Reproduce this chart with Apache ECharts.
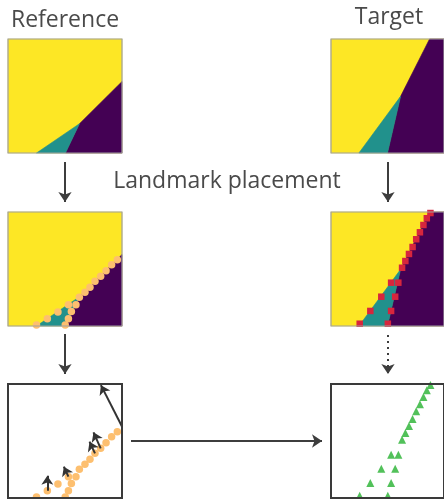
<!DOCTYPE html>
<html>
<head>
<meta charset="utf-8">
<script src="https://cdn.jsdelivr.net/npm/echarts@6/dist/echarts.min.js"></script>
<style>
html, body { margin: 0; padding: 0; background: #fff; }
#chart { width: 444px; height: 499px; }
</style>
</head>
<body>
<div id="chart"></div>
<script>
// Class regions in unit-square coordinates (x to the right, y upwards)
const refPurple = [[1, 0.627], [0.627, 0.257], [0.504, 0], [1, 0]];
const refTeal = [[0.627, 0.257], [0.25, 0], [0.504, 0]];
const tgtPurple = [[0.872, 1], [1, 1], [1, 0], [0.5, 0], [0.616, 0.497]];
const tgtTeal = [[0.616, 0.497], [0.5, 0], [0.247, 0]];

// Landmarks placed along the class boundaries
const refLandmarks = [
  [0.959, 0.582], [0.909, 0.538], [0.860, 0.485], [0.813, 0.436],
  [0.763, 0.392], [0.719, 0.339], [0.675, 0.295], [0.626, 0.252],
  [0.530, 0.187], [0.596, 0.187],
  [0.556, 0.128], [0.530, 0.064], [0.502, 0.008],
  [0.438, 0.123], [0.345, 0.064], [0.250, 0.008]
];
const tgtLandmarks = [
  [0.880, 0.991], [0.848, 0.945], [0.818, 0.886], [0.787, 0.822],
  [0.754, 0.761], [0.722, 0.693], [0.690, 0.632], [0.658, 0.570],
  [0.629, 0.511],
  [0.596, 0.380], [0.532, 0.380],
  [0.568, 0.257], [0.445, 0.257],
  [0.532, 0.132], [0.348, 0.132],
  [0.503, 0.020], [0.254, 0.020]
];

// Displacement arrows drawn on the reference landmarks: [from, to]
const refShifts = [
  [[0.345, 0.064], [0.345, 0.195]],
  [[0.530, 0.187], [0.490, 0.275]],
  [[0.763, 0.392], [0.715, 0.494]],
  [[0.813, 0.436], [0.750, 0.576]],
  [[1.000, 0.627], [0.815, 0.990]]
];

// Connector arrows between panels, in page space (x right, y down)
const solidArrows = [
  [[65, 162], [65, 202]],
  [[65, 334], [65, 374]],
  [[388, 162], [388, 202]],
  [[131, 441], [322, 441]]
];
const dottedArrows = [
  [[388, 335], [388, 374]]
];

const titles = [
  { text: 'Reference', x: 65, y: 20 },
  { text: 'Target', x: 389, y: 17 },
  { text: 'Landmark placement', x: 227, y: 181 }
];

const YELLOW = '#fde725', TEAL = '#21918c', PURPLE = '#440154';
const SIZE = 114;
const panels = [
  { left: 8, top: 39 }, { left: 331, top: 39 },
  { left: 8, top: 212 }, { left: 331, top: 212 },
  { left: 8, top: 384 }, { left: 331, top: 384 }
];

const grid = panels.map(p => ({ left: p.left, top: p.top, width: SIZE, height: SIZE, show: false }));
grid.push({ left: 0, top: 0, width: 444, height: 499, show: false });
const xAxis = panels.map((p, i) => ({ gridIndex: i, type: 'value', min: 0, max: 1, show: false }));
const yAxis = panels.map((p, i) => ({ gridIndex: i, type: 'value', min: 0, max: 1, show: false }));
xAxis.push({ gridIndex: 6, type: 'value', min: 0, max: 444, show: false });
yAxis.push({ gridIndex: 6, type: 'value', min: 0, max: 499, inverse: true, show: false });

function regionSeries(idx, purple, teal) {
  return {
    type: 'custom', xAxisIndex: idx, yAxisIndex: idx, z: 1, silent: true,
    data: [[0, 0]],
    renderItem: function (params, api) {
      const poly = (pts, c) => ({
        type: 'polygon',
        shape: { points: pts.map(pt => api.coord(pt)) },
        style: { fill: c, stroke: c, lineWidth: 0.6 }
      });
      return {
        type: 'group',
        children: [
          poly([[0, 0], [1, 0], [1, 1], [0, 1]], YELLOW),
          poly(purple, PURPLE),
          poly(teal, TEAL)
        ]
      };
    }
  };
}

function frameSeries(idx, color, width) {
  return {
    type: 'custom', xAxisIndex: idx, yAxisIndex: idx, z: 10, silent: true,
    data: [[0, 0]],
    renderItem: function (params, api) {
      const a = api.coord([0, 1]);
      const b = api.coord([1, 0]);
      return {
        type: 'rect',
        shape: { x: a[0], y: a[1], width: b[0] - a[0], height: b[1] - a[1] },
        style: { fill: 'none', stroke: color, lineWidth: width }
      };
    }
  };
}

function landmarkSeries(idx, data, symbol, size, color) {
  return {
    type: 'scatter', xAxisIndex: idx, yAxisIndex: idx, z: 5, silent: true,
    symbol: symbol, symbolSize: size, data: data,
    itemStyle: { color: color, opacity: 1 }
  };
}

const series = [
  regionSeries(0, refPurple, refTeal),
  regionSeries(1, tgtPurple, tgtTeal),
  regionSeries(2, refPurple, refTeal),
  regionSeries(3, tgtPurple, tgtTeal),
  landmarkSeries(2, refLandmarks, 'circle', 7.5, '#fdbf6f'),
  landmarkSeries(3, tgtLandmarks, 'rect', 6.5, '#d7263d'),
  landmarkSeries(4, refLandmarks, 'circle', 7.5, '#fdbf6f'),
  landmarkSeries(5, tgtLandmarks, 'triangle', 8, '#52c15a'),
  {
    type: 'lines', coordinateSystem: 'cartesian2d', xAxisIndex: 4, yAxisIndex: 4, z: 6, silent: true,
    symbol: ['none', 'arrow'], symbolSize: [0, 9],
    lineStyle: { color: '#333', width: 2, opacity: 1 },
    data: refShifts.map(s => ({ coords: s }))
  },
  {
    type: 'lines', coordinateSystem: 'cartesian2d', xAxisIndex: 6, yAxisIndex: 6, z: 6, silent: true,
    symbol: ['none', 'arrow'], symbolSize: [0, 10],
    lineStyle: { color: '#3d3d3d', width: 2, opacity: 1 },
    data: solidArrows.map(s => ({ coords: s }))
  },
  {
    type: 'lines', coordinateSystem: 'cartesian2d', xAxisIndex: 6, yAxisIndex: 6, z: 6, silent: true,
    symbol: ['none', 'arrow'], symbolSize: [0, 10],
    lineStyle: { color: '#3d3d3d', width: 2, type: [2, 4], opacity: 1 },
    data: dottedArrows.map(s => ({ coords: s }))
  },
  frameSeries(0, '#a0a0a0', 1.2),
  frameSeries(1, '#a0a0a0', 1.2),
  frameSeries(2, '#a0a0a0', 1.2),
  frameSeries(3, '#a0a0a0', 1.2),
  frameSeries(4, '#3a3a3a', 2),
  frameSeries(5, '#3a3a3a', 2)
];

const chart = echarts.init(document.getElementById('chart'), null, { renderer: 'canvas' });
chart.setOption({
  animation: false,
  backgroundColor: '#fff',
  grid: grid,
  xAxis: xAxis,
  yAxis: yAxis,
  series: series,
  graphic: titles.map(t => ({
    type: 'text', x: t.x, y: t.y, z: 20,
    style: {
      text: t.text, fill: '#4a4a4a', font: '23px "Open Sans", sans-serif',
      textAlign: 'center', textVerticalAlign: 'middle'
    }
  }))
});
</script>
</body>
</html>
